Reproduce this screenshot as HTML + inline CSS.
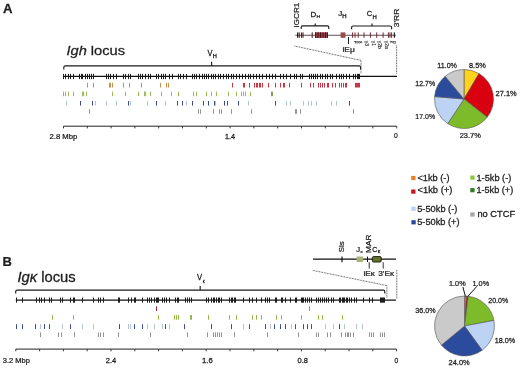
<!DOCTYPE html>
<html><head><meta charset="utf-8"><style>
html,body{margin:0;padding:0;background:#fff;width:520px;height:368px;overflow:hidden}
svg{display:block}
text{font-family:"Liberation Sans",Arial,sans-serif;fill:#1e1e1e;stroke:#1e1e1e;stroke-width:0.26px}
</style></head><body>
<svg width="520" height="368" viewBox="0 0 520 368">
<rect width="520" height="368" fill="#fff"/>
<path d="M63.8 69.5V67.4Q63.8 65.9 65.3 65.9H359.1Q360.6 65.9 360.6 67.4V69.5" stroke="#1a1a1a" stroke-width="1.15" fill="none"/>
<path d="M211.6 65.9v-4.2" stroke="#1a1a1a" stroke-width="1.15" fill="none"/>
<path d="M63.5 76.4H397" stroke="#111" stroke-width="1.1" fill="none"/>
<path d="M63.50 73.9V79.1M65.50 73.9V79.1M68.50 73.9V79.1M70.50 73.9V79.1M73.50 73.9V79.1M79.50 73.9V79.1M81.50 73.9V79.1M82.50 73.9V79.1M85.50 73.9V79.1M87.50 73.9V79.1M89.50 73.9V79.1M91.50 73.9V79.1M93.50 73.9V79.1M106.50 73.9V79.1M108.50 73.9V79.1M110.50 73.9V79.1M113.50 73.9V79.1M116.50 73.9V79.1M123.50 73.9V79.1M125.50 73.9V79.1M128.50 73.9V79.1M130.50 73.9V79.1M138.50 73.9V79.1M140.50 73.9V79.1M142.50 73.9V79.1M145.50 73.9V79.1M148.50 73.9V79.1M150.50 73.9V79.1M156.50 73.9V79.1M158.50 73.9V79.1M161.50 73.9V79.1M163.50 73.9V79.1M165.50 73.9V79.1M169.50 73.9V79.1M172.50 73.9V79.1M178.50 73.9V79.1M180.50 73.9V79.1M183.50 73.9V79.1M186.50 73.9V79.1M192.50 73.9V79.1M194.50 73.9V79.1M196.50 73.9V79.1M199.50 73.9V79.1M202.50 73.9V79.1M204.50 73.9V79.1M206.50 73.9V79.1M208.50 73.9V79.1M211.50 73.9V79.1M213.50 73.9V79.1M215.50 73.9V79.1M218.50 73.9V79.1M220.50 73.9V79.1M223.50 73.9V79.1M226.50 73.9V79.1M228.50 73.9V79.1M231.50 73.9V79.1M233.50 73.9V79.1M236.50 73.9V79.1M239.50 73.9V79.1M242.50 73.9V79.1M245.50 73.9V79.1M248.50 73.9V79.1M250.50 73.9V79.1M253.50 73.9V79.1M256.50 73.9V79.1M259.50 73.9V79.1M262.50 73.9V79.1M266.50 73.9V79.1M269.50 73.9V79.1M272.50 73.9V79.1M275.50 73.9V79.1M280.50 73.9V79.1M283.50 73.9V79.1M286.50 73.9V79.1M290.50 73.9V79.1M294.50 73.9V79.1M296.50 73.9V79.1M300.50 73.9V79.1M302.50 73.9V79.1M309.50 73.9V79.1M311.50 73.9V79.1M313.50 73.9V79.1M315.50 73.9V79.1M317.50 73.9V79.1M320.50 73.9V79.1M322.50 73.9V79.1M325.50 73.9V79.1M327.50 73.9V79.1M330.50 73.9V79.1M332.50 73.9V79.1M336.50 73.9V79.1M339.50 73.9V79.1M341.50 73.9V79.1M343.50 73.9V79.1M346.50 73.9V79.1M349.50 73.9V79.1M353.50 73.9V79.1M355.50 73.9V79.1M357.50 73.9V79.1M358.50 73.9V79.1M359.50 73.9V79.1" stroke="#1c1c1c" stroke-width="1.0" fill="none"/>
<path d="M87.50 82.9V87.5M93.50 82.9V87.5M109.50 82.9V87.5M110.50 82.9V87.5M112.50 82.9V87.5M123.50 82.9V87.5M129.50 82.9V87.5M141.50 82.9V87.5M160.50 82.9V87.5M166.50 82.9V87.5M168.50 82.9V87.5" stroke="#C98E4A" stroke-width="1.0" fill="none"/>
<path d="M232.50 82.9V87.5M243.50 82.9V87.5M244.50 82.9V87.5M249.50 82.9V87.5M254.50 82.9V87.5M256.50 82.9V87.5M257.50 82.9V87.5M259.50 82.9V87.5M260.50 82.9V87.5M262.50 82.9V87.5M268.50 82.9V87.5M275.50 82.9V87.5M280.50 82.9V87.5M283.50 82.9V87.5M284.50 82.9V87.5M289.50 82.9V87.5M301.50 82.9V87.5M310.50 82.9V87.5M313.50 82.9V87.5M318.50 82.9V87.5M320.50 82.9V87.5M322.50 82.9V87.5M324.50 82.9V87.5M327.50 82.9V87.5M328.50 82.9V87.5M332.50 82.9V87.5M335.50 82.9V87.5M339.50 82.9V87.5M341.50 82.9V87.5M343.50 82.9V87.5M345.50 82.9V87.5M346.50 82.9V87.5M355.50 82.9V87.5M356.50 82.9V87.5M357.50 82.9V87.5M358.50 82.9V87.5M359.50 82.9V87.5" stroke="#CA3646" stroke-width="1.0" fill="none"/>
<path d="M63.50 91.6V96.2M65.50 91.6V96.2M68.50 91.6V96.2M73.50 91.6V96.2M82.50 91.6V96.2M83.50 91.6V96.2M86.50 91.6V96.2M112.50 91.6V96.2M125.50 91.6V96.2M138.50 91.6V96.2M144.50 91.6V96.2M145.50 91.6V96.2M150.50 91.6V96.2M161.50 91.6V96.2M171.50 91.6V96.2M178.50 91.6V96.2M193.50 91.6V96.2M196.50 91.6V96.2M206.50 91.6V96.2M211.50 91.6V96.2M216.50 91.6V96.2M228.50 91.6V96.2M236.50 91.6V96.2M241.50 91.6V96.2M243.50 91.6V96.2M245.50 91.6V96.2M250.50 91.6V96.2" stroke="#98BE55" stroke-width="1.0" fill="none"/>
<path d="M271.50 91.6V96.2M272.50 91.6V96.2" stroke="#7FA24E" stroke-width="1.0" fill="none"/>
<path d="M66.50 101.0V105.6M95.50 101.0V105.6M106.50 101.0V105.6M116.50 101.0V105.6M130.50 101.0V105.6M147.50 101.0V105.6M165.50 101.0V105.6M186.50 101.0V105.6M215.50 101.0V105.6M248.50 101.0V105.6M286.50 101.0V105.6M290.50 101.0V105.6M303.50 101.0V105.6M308.50 101.0V105.6M311.50 101.0V105.6M316.50 101.0V105.6M331.50 101.0V105.6M336.50 101.0V105.6" stroke="#B4C2DE" stroke-width="1.0" fill="none"/>
<path d="M80.50 101.0V105.6M92.50 101.0V105.6M128.50 101.0V105.6M156.50 101.0V105.6M177.50 101.0V105.6M182.50 101.0V105.6M192.50 101.0V105.6M203.50 101.0V105.6M208.50 101.0V105.6M214.50 101.0V105.6M224.50 101.0V105.6M227.50 101.0V105.6M238.50 101.0V105.6M275.50 101.0V105.6M349.50 101.0V105.6" stroke="#3A4E8C" stroke-width="1.0" fill="none"/>
<path d="M89.50 109.2V113.8M198.50 109.2V113.8M200.50 109.2V113.8M213.50 109.2V113.8M219.50 109.2V113.8M221.50 109.2V113.8M231.50 109.2V113.8M251.50 109.2V113.8M295.50 109.2V113.8M296.50 109.2V113.8M300.50 109.2V113.8M353.50 109.2V113.8" stroke="#939393" stroke-width="1.0" fill="none"/>
<path d="M63.5 126.2H396.7" stroke="#222" stroke-width="1" fill="none"/>
<path d="M63.50 126.2v2.2M87.30 126.2v2.2M111.10 126.2v2.2M134.90 126.2v2.2M158.70 126.2v2.2M182.50 126.2v2.2M206.30 126.2v2.2M230.10 126.2v2.2M253.90 126.2v2.2M277.70 126.2v2.2M301.50 126.2v2.2M325.30 126.2v2.2M349.10 126.2v2.2M372.90 126.2v2.2M396.70 126.2v2.2" stroke="#222" stroke-width="0.9" fill="none"/>
<path d="M295.3 35.2H396" stroke="#5a5050" stroke-width="1.1" fill="none"/>
<rect x="297.05" y="32.4" width="1.1" height="5.4" fill="#2a1a1a"/>
<rect x="298.65" y="32.4" width="1.1" height="5.4" fill="#2a1a1a"/>
<rect x="300.95" y="32.4" width="1.1" height="5.4" fill="#5a1a1e"/>
<rect x="302.45" y="32.4" width="1.1" height="5.4" fill="#5a1a1e"/>
<rect x="311.65" y="32.4" width="1.1" height="5.4" fill="#5a1a1e"/>
<rect x="315" y="32.3" width="12.8" height="5.6" fill="#98404a"/>
<rect x="315.1" y="32.3" width="1" height="5.6" fill="#4a0f14"/>
<rect x="317.5" y="32.3" width="1" height="5.6" fill="#4a0f14"/>
<rect x="320.0" y="32.3" width="1" height="5.6" fill="#4a0f14"/>
<rect x="322.5" y="32.3" width="1" height="5.6" fill="#4a0f14"/>
<rect x="325.0" y="32.3" width="1" height="5.6" fill="#4a0f14"/>
<rect x="326.9" y="32.3" width="1" height="5.6" fill="#4a0f14"/>
<rect x="340.6" y="32.4" width="4.8" height="5.4" fill="#9a4a48"/>
<rect x="352.1" y="32.4" width="1" height="5.4" fill="#6a2a35"/>
<rect x="354.5" y="32.4" width="1" height="5.4" fill="#6a2a35"/>
<rect x="357.7" y="32.4" width="1" height="5.4" fill="#6a2a35"/>
<rect x="363.5" y="32.4" width="1" height="5.4" fill="#6a2a35"/>
<rect x="369.9" y="32.4" width="1" height="5.4" fill="#6a2a35"/>
<rect x="376.2" y="32.4" width="1" height="5.4" fill="#6a2a35"/>
<rect x="382.6" y="32.4" width="1" height="5.4" fill="#6a2a35"/>
<rect x="387.9" y="32.4" width="1" height="5.4" fill="#6a2a35"/>
<rect x="389.5" y="32.4" width="1" height="5.4" fill="#6a2a35"/>
<rect x="391.1" y="32.4" width="1" height="5.4" fill="#6a2a35"/>
<rect x="393.8" y="32.4" width="1.1" height="5.4" fill="#111"/>
<path d="M301.2 29.099999999999998V27.4Q301.2 25.9 302.7 25.9H327.3Q328.8 25.9 328.8 27.4V29.099999999999998" stroke="#1a1a1a" stroke-width="1.15" fill="none"/>
<path d="M315.2 25.9v-2.4" stroke="#1a1a1a" stroke-width="1.15" fill="none"/>
<path d="M351.6 29.2V27.5Q351.6 26.0 353.1 26.0H390.1Q391.6 26.0 391.6 27.5V29.2" stroke="#1a1a1a" stroke-width="1.15" fill="none"/>
<path d="M372.0 26.0v-2.4" stroke="#1a1a1a" stroke-width="1.15" fill="none"/>
<path d="M348.5 37V44" stroke="#222" stroke-width="1" fill="none"/>
<text transform="translate(354.6 40.8) rotate(90)" font-size="5" style="stroke:#333;stroke-width:0.15px;fill:#333">μ</text>
<text transform="translate(358.20000000000005 40.8) rotate(90)" font-size="5" style="stroke:#333;stroke-width:0.15px;fill:#333">δ</text>
<text transform="translate(365.20000000000005 40.8) rotate(90)" font-size="5" style="stroke:#333;stroke-width:0.15px;fill:#333">γ3</text>
<text transform="translate(371.8 40.8) rotate(90)" font-size="5" style="stroke:#333;stroke-width:0.15px;fill:#333">γ1</text>
<text transform="translate(378.20000000000005 40.8) rotate(90)" font-size="5" style="stroke:#333;stroke-width:0.15px;fill:#333">γ2b</text>
<text transform="translate(384.6 40.8) rotate(90)" font-size="5" style="stroke:#333;stroke-width:0.15px;fill:#333">γ2a</text>
<text transform="translate(390.20000000000005 40.8) rotate(90)" font-size="5" style="stroke:#333;stroke-width:0.15px;fill:#333">ε</text>
<text transform="translate(393.40000000000003 40.8) rotate(90)" font-size="5" style="stroke:#333;stroke-width:0.15px;fill:#333">α</text>
<path d="M294.5 46L361 60.4V74" stroke="#3a3a3a" stroke-width="0.85" stroke-dasharray="0.9 0.7" fill="none"/>
<path d="M396.6 45.5V74" stroke="#3a3a3a" stroke-width="0.85" stroke-dasharray="0.9 0.7" fill="none"/>
<path d="M464 99L464.00 69.50A29.5 29.5 0 0 1 479.02 73.61Z" fill="#FFD21F" stroke="#555" stroke-width="0.6" stroke-linejoin="round"/>
<path d="M464 99L479.02 73.61A29.5 29.5 0 0 1 487.20 117.23Z" fill="#D9000F" stroke="#555" stroke-width="0.6" stroke-linejoin="round"/>
<path d="M464 99L487.20 117.23A29.5 29.5 0 0 1 447.73 123.61Z" fill="#7DBB2A" stroke="#555" stroke-width="0.6" stroke-linejoin="round"/>
<path d="M464 99L447.73 123.61A29.5 29.5 0 0 1 434.60 96.59Z" fill="#BCD3F4" stroke="#555" stroke-width="0.6" stroke-linejoin="round"/>
<path d="M464 99L434.60 96.59A29.5 29.5 0 0 1 445.20 76.27Z" fill="#2B4C9C" stroke="#555" stroke-width="0.6" stroke-linejoin="round"/>
<path d="M464 99L445.20 76.27A29.5 29.5 0 0 1 464.00 69.50Z" fill="#CACACA" stroke="#555" stroke-width="0.6" stroke-linejoin="round"/>
<rect x="411.2" y="175.9" width="4.3" height="4.2" fill="#E5802A"/>
<rect x="411.2" y="189.5" width="4.3" height="4.2" fill="#C4141C"/>
<rect x="411.4" y="206.7" width="4.3" height="4.2" fill="#BDD0F0"/>
<rect x="411.4" y="220.2" width="4.3" height="4.2" fill="#27479A"/>
<rect x="470.3" y="175.5" width="4.3" height="4.2" fill="#8CC63F"/>
<rect x="470.3" y="188.1" width="4.3" height="4.2" fill="#2E7E22"/>
<rect x="470.3" y="212.4" width="4.3" height="4.2" fill="#A8A8A8"/>
<path d="M15.7 293.5V291.6Q15.7 290.1 17.2 290.1H383.3Q384.8 290.1 384.8 291.6V293.5" stroke="#1a1a1a" stroke-width="1.15" fill="none"/>
<path d="M200.2 290.1v-4.0" stroke="#1a1a1a" stroke-width="1.15" fill="none"/>
<path d="M15.8 300.1H396" stroke="#111" stroke-width="1.1" fill="none"/>
<path d="M16.50 297.5V302.7M22.50 297.5V302.7M36.50 297.5V302.7M39.50 297.5V302.7M41.50 297.5V302.7M44.50 297.5V302.7M49.50 297.5V302.7M51.50 297.5V302.7M60.50 297.5V302.7M62.50 297.5V302.7M70.50 297.5V302.7M73.50 297.5V302.7M74.50 297.5V302.7M82.50 297.5V302.7M93.50 297.5V302.7M98.50 297.5V302.7M100.50 297.5V302.7M103.50 297.5V302.7M118.50 297.5V302.7M119.50 297.5V302.7M128.50 297.5V302.7M131.50 297.5V302.7M134.50 297.5V302.7M135.50 297.5V302.7M142.50 297.5V302.7M147.50 297.5V302.7M149.50 297.5V302.7M151.50 297.5V302.7M154.50 297.5V302.7M156.50 297.5V302.7M157.50 297.5V302.7M158.50 297.5V302.7M162.50 297.5V302.7M164.50 297.5V302.7M166.50 297.5V302.7M169.50 297.5V302.7M175.50 297.5V302.7M177.50 297.5V302.7M178.50 297.5V302.7M185.50 297.5V302.7M187.50 297.5V302.7M189.50 297.5V302.7M191.50 297.5V302.7M206.50 297.5V302.7M208.50 297.5V302.7M211.50 297.5V302.7M213.50 297.5V302.7M214.50 297.5V302.7M216.50 297.5V302.7M218.50 297.5V302.7M219.50 297.5V302.7M221.50 297.5V302.7M229.50 297.5V302.7M231.50 297.5V302.7M232.50 297.5V302.7M234.50 297.5V302.7M235.50 297.5V302.7M243.50 297.5V302.7M249.50 297.5V302.7M252.50 297.5V302.7M256.50 297.5V302.7M261.50 297.5V302.7M265.50 297.5V302.7M267.50 297.5V302.7M269.50 297.5V302.7M275.50 297.5V302.7M276.50 297.5V302.7M281.50 297.5V302.7M282.50 297.5V302.7M285.50 297.5V302.7M290.50 297.5V302.7M295.50 297.5V302.7M296.50 297.5V302.7M301.50 297.5V302.7M302.50 297.5V302.7M303.50 297.5V302.7M305.50 297.5V302.7M307.50 297.5V302.7M309.50 297.5V302.7M311.50 297.5V302.7M316.50 297.5V302.7M318.50 297.5V302.7M320.50 297.5V302.7M322.50 297.5V302.7M324.50 297.5V302.7M326.50 297.5V302.7M328.50 297.5V302.7M331.50 297.5V302.7M333.50 297.5V302.7M339.50 297.5V302.7M340.50 297.5V302.7M342.50 297.5V302.7M343.50 297.5V302.7M344.50 297.5V302.7M346.50 297.5V302.7M347.50 297.5V302.7M349.50 297.5V302.7M351.50 297.5V302.7M354.50 297.5V302.7M356.50 297.5V302.7M363.50 297.5V302.7M369.50 297.5V302.7M372.50 297.5V302.7M380.50 297.5V302.7M381.50 297.5V302.7M382.50 297.5V302.7M383.50 297.5V302.7M384.50 297.5V302.7" stroke="#1c1c1c" stroke-width="1.0" fill="none"/>
<path d="M309.50 306.3V311" stroke="#C88A3A" stroke-width="1.0" fill="none"/>
<path d="M156.50 306.3V311" stroke="#A02030" stroke-width="1.0" fill="none"/>
<path d="M52.50 315.1V319.7M73.50 315.1V319.7M158.50 315.1V319.7M174.50 315.1V319.7M176.50 315.1V319.7M178.50 315.1V319.7M190.50 315.1V319.7M191.50 315.1V319.7M208.50 315.1V319.7M229.50 315.1V319.7M236.50 315.1V319.7M252.50 315.1V319.7M256.50 315.1V319.7M261.50 315.1V319.7M276.50 315.1V319.7M281.50 315.1V319.7M301.50 315.1V319.7M318.50 315.1V319.7M322.50 315.1V319.7M342.50 315.1V319.7" stroke="#93B84A" stroke-width="1.0" fill="none"/>
<path d="M40.50 324.2V329.1M62.50 324.2V329.1M82.50 324.2V329.1M93.50 324.2V329.1M128.50 324.2V329.1M130.50 324.2V329.1M147.50 324.2V329.1M154.50 324.2V329.1M162.50 324.2V329.1M169.50 324.2V329.1M243.50 324.2V329.1M270.50 324.2V329.1M291.50 324.2V329.1M325.50 324.2V329.1M333.50 324.2V329.1M344.50 324.2V329.1M356.50 324.2V329.1M362.50 324.2V329.1" stroke="#B4C2DE" stroke-width="1.0" fill="none"/>
<path d="M16.50 324.2V329.1M22.50 324.2V329.1M35.50 324.2V329.1M44.50 324.2V329.1M49.50 324.2V329.1M70.50 324.2V329.1M119.50 324.2V329.1M134.50 324.2V329.1M142.50 324.2V329.1M165.50 324.2V329.1M184.50 324.2V329.1M211.50 324.2V329.1M231.50 324.2V329.1M249.50 324.2V329.1M265.50 324.2V329.1M274.50 324.2V329.1M280.50 324.2V329.1M285.50 324.2V329.1M295.50 324.2V329.1M303.50 324.2V329.1M307.50 324.2V329.1M311.50 324.2V329.1M339.50 324.2V329.1" stroke="#3A4E8C" stroke-width="1.0" fill="none"/>
<path d="M40.50 332.4V337.0M58.50 332.4V337.0M61.50 332.4V337.0M74.50 332.4V337.0M98.50 332.4V337.0M100.50 332.4V337.0M103.50 332.4V337.0M118.50 332.4V337.0M150.50 332.4V337.0M187.50 332.4V337.0M207.50 332.4V337.0M213.50 332.4V337.0M215.50 332.4V337.0M217.50 332.4V337.0M219.50 332.4V337.0M221.50 332.4V337.0M234.50 332.4V337.0M267.50 332.4V337.0M298.50 332.4V337.0M316.50 332.4V337.0M318.50 332.4V337.0M327.50 332.4V337.0M330.50 332.4V337.0M341.50 332.4V337.0M345.50 332.4V337.0M347.50 332.4V337.0M348.50 332.4V337.0M350.50 332.4V337.0M353.50 332.4V337.0M369.50 332.4V337.0M371.50 332.4V337.0M373.50 332.4V337.0M380.50 332.4V337.0M382.50 332.4V337.0M384.50 332.4V337.0" stroke="#939393" stroke-width="1.0" fill="none"/>
<path d="M15.8 349.1H396.6" stroke="#222" stroke-width="1" fill="none"/>
<path d="M15.80 349.1v2.2M39.60 349.1v2.2M63.40 349.1v2.2M87.20 349.1v2.2M111.00 349.1v2.2M134.80 349.1v2.2M158.60 349.1v2.2M182.40 349.1v2.2M206.20 349.1v2.2M230.00 349.1v2.2M253.80 349.1v2.2M277.60 349.1v2.2M301.40 349.1v2.2M325.20 349.1v2.2M349.00 349.1v2.2M372.80 349.1v2.2M396.60 349.1v2.2" stroke="#222" stroke-width="0.9" fill="none"/>
<path d="M313 259.2H396" stroke="#111" stroke-width="1.2" fill="none"/>
<rect x="341.4" y="256.6" width="1.2" height="5.6" fill="#111"/>
<rect x="356.6" y="256.5" width="6.6" height="5.5" fill="#A9B27A"/>
<rect x="367.0" y="256.6" width="1.0" height="5.4" fill="#111"/>
<rect x="372.4" y="256.6" width="8.8" height="5.4" rx="1.1" fill="#62732A" stroke="#141408" stroke-width="0.9"/>
<path d="M369.2 262.2V268.6M383.2 262.2V268.6" stroke="#333" stroke-width="1" fill="none"/>
<path d="M312.8 270.4L386.9 285.6V297.5" stroke="#3a3a3a" stroke-width="0.85" stroke-dasharray="0.9 0.7" fill="none"/>
<path d="M396.8 270V299" stroke="#3a3a3a" stroke-width="0.85" stroke-dasharray="0.9 0.7" fill="none"/>
<path d="M464.5 326L464.50 296.00A30 30 0 0 1 466.38 296.06Z" fill="#E8892B" stroke="#555" stroke-width="0.6" stroke-linejoin="round"/>
<path d="M464.5 326L466.38 296.06A30 30 0 0 1 468.26 296.24Z" fill="#C8161E" stroke="#555" stroke-width="0.6" stroke-linejoin="round"/>
<path d="M464.5 326L468.26 296.24A30 30 0 0 1 493.97 320.38Z" fill="#7DBB2A" stroke="#555" stroke-width="0.6" stroke-linejoin="round"/>
<path d="M464.5 326L493.97 320.38A30 30 0 0 1 482.13 350.27Z" fill="#BCD3F4" stroke="#555" stroke-width="0.6" stroke-linejoin="round"/>
<path d="M464.5 326L482.13 350.27A30 30 0 0 1 441.38 345.12Z" fill="#2B4C9C" stroke="#555" stroke-width="0.6" stroke-linejoin="round"/>
<path d="M464.5 326L441.38 345.12A30 30 0 0 1 464.50 296.00Z" fill="#CACACA" stroke="#555" stroke-width="0.6" stroke-linejoin="round"/>
<path d="M462.9 287.0L465.4 296.4M477.0 286.2L467.8 296.4" stroke="#111" stroke-width="1.0" fill="none"/>
<g id="tA" transform="matrix(1.0153 0 0 1.0403 2.983 12.756)"><text x="0" y="0" font-size="13" font-weight="bold" fill="#000">A</text></g>
<g id="tIgh" transform="matrix(1.1265 0 0 1.0382 66.443 55.153)"><text x="0" y="0" font-size="13" fill="#111"><tspan font-style="italic">Igh</tspan> locus</text></g>
<g id="tVH" transform="matrix(0.9426 0 0 1.0181 207.469 55.782)"><text x="0" y="0" font-size="8">V</text></g>
<g id="tVHs" transform="matrix(1.1755 0 0 0.9775 212.851 58.052)"><text x="0" y="0" font-size="4.8">H</text></g>
<g id="tIGCR1" transform="matrix(0.9063 0 0 1.0280 298.970 27.723)"><text x="0" y="0" font-size="8" transform="rotate(-90)">IGCR1</text></g>
<g id="tD" transform="matrix(1.0531 0 0 1.0053 310.476 16.659)"><text x="0" y="0" font-size="7.6">D</text></g>
<g id="tDs" transform="matrix(1.0220 0 0 0.8879 316.411 18.397)"><text x="0" y="0" font-size="4.8">H</text></g>
<g id="tJ" transform="matrix(1.0560 0 0 0.9509 338.369 16.316)"><text x="0" y="0" font-size="7.6">J</text></g>
<g id="tJs" transform="matrix(1.2497 0 0 1.0194 342.218 18.380)"><text x="0" y="0" font-size="4.8">H</text></g>
<g id="tC" transform="matrix(0.9917 0 0 1.0337 366.707 16.497)"><text x="0" y="0" font-size="7.6">C</text></g>
<g id="tCs" transform="matrix(1.2313 0 0 0.9790 372.435 18.521)"><text x="0" y="0" font-size="4.8">H</text></g>
<g id="t3RR" transform="matrix(0.8500 0 0 1.0612 398.524 27.287)"><text x="0" y="0" font-size="8" transform="rotate(-90)">3'RR</text></g>
<g id="tiEmu" transform="matrix(1.0454 0 0 0.9322 342.456 52.104)"><text x="0" y="0" font-size="8">iEμ</text></g>
<g id="tA28" transform="matrix(1.0265 0 0 0.9161 49.490 138.622)"><text x="0" y="0" font-size="7.5">2.8 Mbp</text></g>
<g id="tA14" transform="matrix(0.9596 0 0 0.9832 225.020 138.500)"><text x="0" y="0" font-size="7.5">1.4</text></g>
<g id="tA0" transform="matrix(0.9037 0 0 0.8981 393.997 138.293)"><text x="0" y="0" font-size="7.5">0</text></g>
<g id="pA1" transform="matrix(0.9853 0 0 0.9768 469.002 67.761)"><text x="0" y="0" font-size="7.5">8.5%</text></g>
<g id="pA2" transform="matrix(0.9529 0 0 0.9768 437.270 67.768)"><text x="0" y="0" font-size="7.5">11.0%</text></g>
<g id="pA3" transform="matrix(0.9981 0 0 0.9810 495.496 96.285)"><text x="0" y="0" font-size="7.5">27.1%</text></g>
<g id="pA4" transform="matrix(0.9336 0 0 0.9810 415.294 86.285)"><text x="0" y="0" font-size="7.5">12.7%</text></g>
<g id="pA5" transform="matrix(0.9336 0 0 0.9493 415.294 118.782)"><text x="0" y="0" font-size="7.5">17.0%</text></g>
<g id="pA6" transform="matrix(0.9880 0 0 0.9196 459.753 138.268)"><text x="0" y="0" font-size="7.5">23.7%</text></g>
<g id="L1" transform="matrix(1.1137 0 0 1.0000 417.461 180.600)"><text x="0" y="0" font-size="8.3">&lt;1kb (-)</text></g>
<g id="L2" transform="matrix(1.1325 0 0 1.0000 417.456 193.400)"><text x="0" y="0" font-size="8.3">&lt;1kb (+)</text></g>
<g id="L3" transform="matrix(1.1173 0 0 1.0000 417.198 212.100)"><text x="0" y="0" font-size="8.3">5-50kb (-)</text></g>
<g id="L4" transform="matrix(1.1124 0 0 1.0000 417.199 225.400)"><text x="0" y="0" font-size="8.3">5-50kb (+)</text></g>
<g id="L5" transform="matrix(1.1155 0 0 1.0000 476.419 180.700)"><text x="0" y="0" font-size="8.3">1-5kb (-)</text></g>
<g id="L6" transform="matrix(1.0995 0 0 1.0000 476.429 193.100)"><text x="0" y="0" font-size="8.3">1-5kb (+)</text></g>
<g id="L7" transform="matrix(1.1184 0 0 1.0000 477.427 216.900)"><text x="0" y="0" font-size="8.3">no CTCF</text></g>
<g id="tB" transform="matrix(0.9956 0 0 0.9286 2.500 265.508)"><text x="0" y="0" font-size="13" font-weight="bold" fill="#000">B</text></g>
<g id="tIgk" transform="matrix(1.1367 0 0 1.1032 17.437 281.975)"><text x="0" y="0" font-size="13" fill="#111"><tspan font-style="italic">Igκ</tspan> locus</text></g>
<g id="tVk" transform="matrix(0.9655 0 0 1.0181 196.988 280.282)"><text x="0" y="0" font-size="8">V</text></g>
<g id="tVks" transform="matrix(0.8652 0 0 0.9676 202.711 282.647)"><text x="0" y="0" font-size="4.8">κ</text></g>
<g id="tSis" transform="matrix(0.8745 0 0 0.9784 343.545 252.254)"><text x="0" y="0" font-size="8" transform="rotate(-90)">Sis</text></g>
<g id="tMAR" transform="matrix(0.9884 0 0 1.0393 370.517 253.031)"><text x="0" y="0" font-size="8" transform="rotate(-90)">MAR</text></g>
<g id="tJk" transform="matrix(0.9671 0 0 0.9565 356.222 251.513)"><text x="0" y="0" font-size="8">J</text></g>
<g id="tJks" transform="matrix(0.9143 0 0 0.8942 360.395 252.746)"><text x="0" y="0" font-size="4.8">κ</text></g>
<g id="tCk" transform="matrix(0.8909 0 0 0.9802 372.276 251.757)"><text x="0" y="0" font-size="8">C</text></g>
<g id="tCks" transform="matrix(1.0815 0 0 1.0561 377.850 253.393)"><text x="0" y="0" font-size="4.8">κ</text></g>
<g id="tiEk" transform="matrix(1.0249 0 0 0.9343 363.488 276.487)"><text x="0" y="0" font-size="8">iEκ</text></g>
<g id="t3Ek" transform="matrix(1.0395 0 0 0.8900 378.209 276.263)"><text x="0" y="0" font-size="8">3'Eκ</text></g>
<g id="tB32" transform="matrix(1.0020 0 0 0.9366 2.745 362.597)"><text x="0" y="0" font-size="7.5">3.2 Mbp</text></g>
<g id="tB24" transform="matrix(1.0025 0 0 1.0498 105.736 363.014)"><text x="0" y="0" font-size="7.5">2.4</text></g>
<g id="tB16" transform="matrix(1.0276 0 0 1.0021 201.974 362.761)"><text x="0" y="0" font-size="7.5">1.6</text></g>
<g id="tB08" transform="matrix(1.0019 0 0 1.0021 297.487 362.761)"><text x="0" y="0" font-size="7.5">0.8</text></g>
<g id="tB0" transform="matrix(0.8934 0 0 1.0021 394.516 362.761)"><text x="0" y="0" font-size="7.5">0</text></g>
<g id="pB1" transform="matrix(0.9756 0 0 0.9472 449.012 285.766)"><text x="0" y="0" font-size="7.5">1.0%</text></g>
<g id="pB2" transform="matrix(0.9756 0 0 0.9472 472.512 285.766)"><text x="0" y="0" font-size="7.5">1.0%</text></g>
<g id="pB3" transform="matrix(0.9392 0 0 0.9768 488.277 303.268)"><text x="0" y="0" font-size="7.5">20.0%</text></g>
<g id="pB4" transform="matrix(0.9658 0 0 0.9884 494.770 343.025)"><text x="0" y="0" font-size="7.5">18.0%</text></g>
<g id="pB5" transform="matrix(0.9983 0 0 0.9884 448.491 365.275)"><text x="0" y="0" font-size="7.5">24.0%</text></g>
<g id="pB6" transform="matrix(0.9565 0 0 0.9768 415.261 312.515)"><text x="0" y="0" font-size="7.5">36.0%</text></g>
</svg>
</body></html>
